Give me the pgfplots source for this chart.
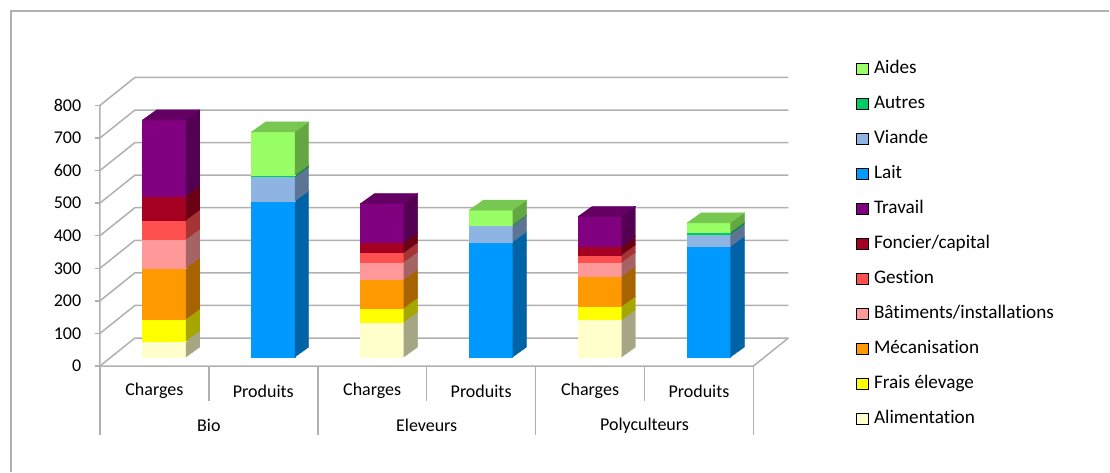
\documentclass[border=0pt]{standalone}
\usepackage{pgfplots}
\pgfplotsset{compat=1.18}
\usepackage{pgfplotstable}
\usepackage{fontspec}
\setmainfont{Carlito}[Ligatures=CommonOff]

\definecolor{alim}{HTML}{FFFFCC}
\definecolor{frais}{HTML}{FFFF00}
\definecolor{meca}{HTML}{FF9900}
\definecolor{bat}{HTML}{FF9999}
\definecolor{gest}{HTML}{FF5050}
\definecolor{fonc}{HTML}{A50021}
\definecolor{trav}{HTML}{800080}
\definecolor{lait}{HTML}{0099FF}
\definecolor{viande}{HTML}{8EB4E3}
\definecolor{autres}{HTML}{00CC66}
\definecolor{aides}{HTML}{99FF66}
\definecolor{gridc}{HTML}{B0B0B0}

% rows: 0 Bio/Charges, 1 Bio/Produits, 2 Eleveurs/Charges, 3 Eleveurs/Produits, 4 Polyculteurs/Charges, 5 Polyculteurs/Produits
\pgfplotstableread{
x alim frais meca bat gest fonc trav lait viande autres aides
0 50 67 157 88 59 74 233 0 0 0 0
1 0 0 0 0 0 0 0 479 75 4 133
2 108 43 87 54 29 31 119 0 0 0 0
3 0 0 0 0 0 0 0 354 50 2 45
4 115 41 92 43 23 25 93 0 0 0 0
5 0 0 0 0 0 0 0 340 38 5 29
}\data

\def\hw{0.2}
\def\dx{0.128}
\def\dy{30.7}

\newcommand\drawcol[1]{%
  \def\cum{0}\def\topcol{}%
  \pgfplotsforeachungrouped \sname in {alim,frais,meca,bat,gest,fonc,trav,lait,viande,autres,aides}{%
    \pgfplotstablegetelem{#1}{\sname}\of\data
    \let\sval=\pgfplotsretval
    \ifdim\sval pt>0pt
      \pgfmathsetmacro\lo{\cum}%
      \pgfmathsetmacro\hi{\cum+\sval}%
      \pgfmathsetmacro\lob{\lo+\dy}%
      \pgfmathsetmacro\hib{\hi+\dy}%
      \pgfmathsetmacro\xl{#1-\hw}%
      \pgfmathsetmacro\xr{#1+\hw}%
      \pgfmathsetmacro\xb{#1+\hw+\dx}%
      \edef\tmp{%
        \noexpand\addplot[fill=\sname,draw=\sname,line width=0.2pt,forget plot] coordinates {(\xl,\lo) (\xr,\lo) (\xr,\hi) (\xl,\hi)};%
        \noexpand\addplot[fill=\sname!65!black,draw=\sname!65!black,line width=0.2pt,forget plot] coordinates {(\xr,\lo) (\xb,\lob) (\xb,\hib) (\xr,\hi)};%
      }\tmp
      \let\cum=\hi
      \edef\topcol{\sname}%
    \fi
  }%
  \pgfmathsetmacro\xl{#1-\hw}%
  \pgfmathsetmacro\xr{#1+\hw}%
  \pgfmathsetmacro\xlb{#1-\hw+\dx}%
  \pgfmathsetmacro\xb{#1+\hw+\dx}%
  \pgfmathsetmacro\hib{\cum+\dy}%
  \edef\tmp{%
    \noexpand\addplot[fill=\topcol!78!black,draw=\topcol!78!black,line width=0.2pt,forget plot] coordinates {(\xl,\cum) (\xr,\cum) (\xb,\hib) (\xlb,\hib)};%
  }\tmp
}

\begin{document}
\begin{tikzpicture}
\begin{axis}[
  x=54.5pt, y=0.163pt,
  xmin=-0.5, xmax=5.5, ymin=0, ymax=800,
  hide axis, clip=false,
  font=\fontsize{9}{10}\selectfont,
  legend style={draw=none, fill=none, at={(axis cs:6.353,907)}, anchor=north west,
    inner sep=0pt, outer sep=0pt, row sep=9.5pt,
    font=\fontsize{9.6}{10}\selectfont,
    nodes={inner sep=0pt, text height=6.2pt, text depth=1.8pt},
    /tikz/every odd column/.append style={column sep=2.6pt}},
  legend cell align=left,
  legend image code/.code={\fill[#1] (0pt,-2.6pt) rectangle (6pt,3pt);},
]
% outer frame and bounding box
\path (axis cs:-1.5064,-351.8) rectangle (axis cs:8.6789,1096.0);
\draw[gridc, line width=0.65pt] (axis cs:-1.4055,-351.8) -- (axis cs:-1.4055,1062.3) -- (axis cs:8.6789,1062.3);

% walls, gridlines, value ticks
\pgfplotsinvokeforeach{0,100,...,800}{
  \draw[gridc, line width=0.75pt] (axis cs:-0.589,#1-27.6) -- (axis cs:-0.268,#1+58.3) -- (axis cs:5.732,#1+58.3);
  \draw[gridc, line width=0.75pt] (axis cs:-0.589,#1-27.6) -- (axis cs:-0.635,#1-27.6);
  \node[anchor=east, inner sep=0pt, font=\fontsize{9}{10}\selectfont] at (axis cs:-0.757,#1-27.6) {#1};
}
\draw[gridc, line width=0.75pt] (axis cs:-0.589,772.4) -- (axis cs:-0.589,-27.6) -- (axis cs:5.411,-27.6) -- (axis cs:5.732,58.3);
% category separators
\draw[gridc, line width=0.75pt] (axis cs:-0.589,-27.6) -- (axis cs:-0.589,-239.2);
\draw[gridc, line width=0.75pt] (axis cs:0.411,-27.6) -- (axis cs:0.411,-135);
\draw[gridc, line width=0.75pt] (axis cs:1.411,-27.6) -- (axis cs:1.411,-239.2);
\draw[gridc, line width=0.75pt] (axis cs:2.411,-27.6) -- (axis cs:2.411,-135);
\draw[gridc, line width=0.75pt] (axis cs:3.411,-27.6) -- (axis cs:3.411,-239.2);
\draw[gridc, line width=0.75pt] (axis cs:4.411,-27.6) -- (axis cs:4.411,-135);
\draw[gridc, line width=0.75pt] (axis cs:5.411,-27.6) -- (axis cs:5.411,-239.2);
% category labels
\node at (axis cs:-0.089,-104.3) {Charges};
\node at (axis cs:0.911,-104.3) {Produits};
\node at (axis cs:1.911,-104.3) {Charges};
\node at (axis cs:2.911,-104.3) {Produits};
\node at (axis cs:3.911,-104.3) {Charges};
\node at (axis cs:4.911,-104.3) {Produits};
\node at (axis cs:0.411,-210.7) {Bio};
\node at (axis cs:2.411,-210.7) {Eleveurs};
\node at (axis cs:4.411,-210.7) {Polyculteurs};

% bars
\drawcol{0}
\drawcol{1}
\drawcol{2}
\drawcol{3}
\drawcol{4}
\drawcol{5}

% legend
\addlegendimage{fill=aides}\addlegendentry{Aides}
\addlegendimage{fill=autres}\addlegendentry{Autres}
\addlegendimage{fill=viande}\addlegendentry{Viande}
\addlegendimage{fill=lait}\addlegendentry{Lait}
\addlegendimage{fill=trav}\addlegendentry{Travail}
\addlegendimage{fill=fonc}\addlegendentry{Foncier/capital}
\addlegendimage{fill=gest}\addlegendentry{Gestion}
\addlegendimage{fill=bat}\addlegendentry{Bâtiments/installations}
\addlegendimage{fill=meca}\addlegendentry{Mécanisation}
\addlegendimage{fill=frais}\addlegendentry{Frais élevage}
\addlegendimage{fill=alim}\addlegendentry{Alimentation}
\end{axis}
\end{tikzpicture}
\end{document}
